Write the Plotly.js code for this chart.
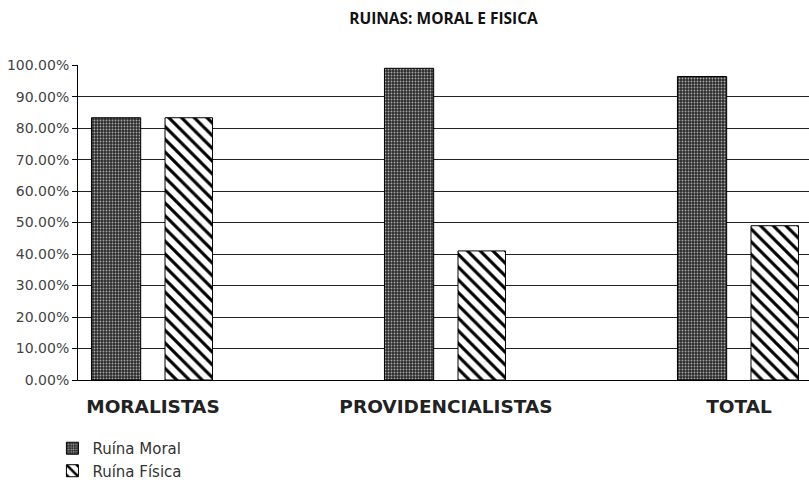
<!DOCTYPE html>
<html>
<head>
<meta charset="utf-8">
<script src="https://cdn.plot.ly/plotly-3.0.1.min.js"></script>
<style>html,body{margin:0;padding:0;background:#fff;}#chart{width:809px;height:490px;}</style>
</head>
<body>
<div id="chart"></div>
<script>
const categories = ['MORALISTAS', 'PROVIDENCIALISTAS', 'TOTAL'];
const seriesNames = ['Ruína Moral', 'Ruína Física'];
const ruinaMoral = [0.833, 0.99, 0.964];
const ruinaFisica = [0.833, 0.41, 0.49];
const yTicks = [0, 0.1, 0.2, 0.3, 0.4, 0.5, 0.6, 0.7, 0.8, 0.9, 1.0];

const xPos = categories.map((c, i) => i);

const traces = [
  {
    type: 'bar', name: seriesNames[0], x: xPos, y: ruinaMoral,
    width: 0.168, offset: -0.21,
    marker: {
      color: '#3a3a3a',
      line: {color: '#000', width: 1},
      pattern: {shape: '.', bgcolor: '#2c2c2c', fgcolor: '#a8a8a8', size: 3, solidity: 0.3}
    },
    hoverinfo: 'skip'
  },
  {
    type: 'bar', name: seriesNames[1], x: xPos, y: ruinaFisica,
    width: 0.162, offset: 0.041,
    marker: {
      color: '#ffffff',
      line: {color: '#000', width: 1},
      pattern: {shape: '\\', bgcolor: '#ffffff', fgcolor: '#000000', size: 9, solidity: 0.35}
    },
    hoverinfo: 'skip'
  }
];

const layout = {
  width: 809, height: 490,
  margin: {l: 78, r: 0, t: 65, b: 110},
  paper_bgcolor: '#fff', plot_bgcolor: '#fff',
  title: {
    text: '<b>RUINAS: MORAL E FISICA</b>',
    font: {family: 'Open Sans, sans-serif', size: 15.5, color: '#111'},
    x: 0.5, xref: 'paper', xanchor: 'center', y: 0.963, yref: 'container', yanchor: 'middle'
  },
  showlegend: true,
  legend: {
    x: -0.035, y: -0.165, xanchor: 'left', yanchor: 'top',
    font: {family: 'DejaVu Sans, sans-serif', size: 15, color: '#333'},
    bgcolor: 'rgba(0,0,0,0)', tracegroupgap: 0, traceorder: 'normal',
    itemwidth: 30
  },
  xaxis: {
    range: [-0.256, 2.239],
    tickvals: xPos, ticktext: categories,
    showgrid: false, zeroline: false,
    showline: true, linecolor: '#000', linewidth: 1,
    ticks: '', ticklabelstandoff: 10,
    tickfont: {family: 'DejaVu Sans, sans-serif', size: 18.5, color: '#222', weight: 'bold'},
    fixedrange: true
  },
  yaxis: {
    range: [0, 1.0005],
    tickvals: yTicks, tickformat: '.2%',
    showgrid: true, gridcolor: '#222', gridwidth: 1,
    zeroline: false,
    showline: true, linecolor: '#000', linewidth: 1,
    ticks: 'outside', ticklen: 5, tickcolor: '#000',
    tickfont: {family: 'DejaVu Sans, sans-serif', size: 14, color: '#444'},
    fixedrange: true
  },
  bargap: 0, bargroupgap: 0
};

Plotly.newPlot('chart', traces, layout, {displayModeBar: false, staticPlot: true});
</script>
</body>
</html>
